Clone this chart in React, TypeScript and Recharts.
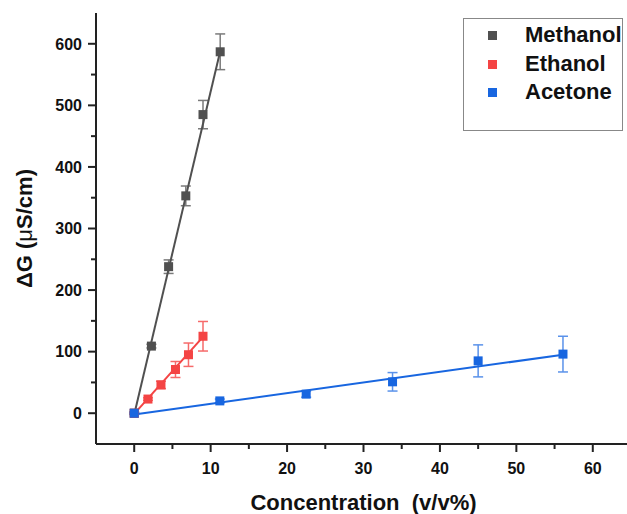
import React from 'react';
import { ComposedChart, Scatter, XAxis, YAxis, ErrorBar, Legend } from 'recharts';

const seriesNames = ['Methanol', 'Ethanol', 'Acetone'];
const seriesColors = ['#505050', '#f44444', '#1866e0'];
const errorColors = ['#7a7a7a', '#f66a6a', '#5a92ea'];

const methanolX = [0, 2.25, 4.5, 6.75, 9.0, 11.25];
const methanolY = [0, 109, 238, 353, 485, 587];
const methanolErr = [2, 3, 11, 16, 23, 29];

const ethanolX = [0, 1.8, 3.5, 5.4, 7.1, 9.0];
const ethanolY = [0, 23, 46, 71, 95, 125];
const ethanolErr = [1, 2, 6, 13, 19, 24];

const acetoneX = [0, 11.2, 22.5, 33.8, 45, 56.1];
const acetoneY = [0, 20, 31, 51, 85, 96];
const acetoneErr = [1, 3, 5, 15, 26, 29];

const methanolFitX = [0, 11.25];
const methanolFitY = [-2, 588];
const ethanolFitX = [0, 9.0];
const ethanolFitY = [-1, 124];
const acetoneFitX = [0, 56.1];
const acetoneFitY = [-2, 95];

const xTicks = [0, 5, 10, 15, 20, 25, 30, 35, 40, 45, 50, 55, 60];
const yTicks = [0, 50, 100, 150, 200, 250, 300, 350, 400, 450, 500, 550, 600];

const toPoints = (xs: number[], ys: number[], es?: number[]) =>
  xs.map((x, i) => ({ x, y: ys[i], err: es ? es[i] : 0 }));

const methanolData = toPoints(methanolX, methanolY, methanolErr);
const ethanolData = toPoints(ethanolX, ethanolY, ethanolErr);
const acetoneData = toPoints(acetoneX, acetoneY, acetoneErr);
const methanolFit = toPoints(methanolFitX, methanolFitY);
const ethanolFit = toPoints(ethanolFitX, ethanolFitY);
const acetoneFit = toPoints(acetoneFitX, acetoneFitY);

const FONT = '"Liberation Sans", Arial, sans-serif';
const AXIS = '#222';

const XTick = (props: any) => {
  const { x, y, payload } = props;
  const v = payload.value;
  const major = v % 10 === 0;
  return (
    <g>
      <line x1={x} x2={x} y1={y} y2={y + (major ? 8 : 5)} stroke={AXIS} strokeWidth={2} />
      {major && (
        <text x={x} y={y + 30} textAnchor="middle" fontFamily={FONT} fontWeight="bold" fontSize={16} fill="#111">
          {v}
        </text>
      )}
    </g>
  );
};

const YTick = (props: any) => {
  const { x, y, payload } = props;
  const v = payload.value;
  const major = v % 100 === 0;
  return (
    <g>
      <line x1={x} x2={x - (major ? 8 : 5)} y1={y} y2={y} stroke={AXIS} strokeWidth={2} />
      {major && (
        <text x={x - 14} y={y} dy="0.36em" textAnchor="end" fontFamily={FONT} fontWeight="bold" fontSize={16} fill="#111">
          {v}
        </text>
      )}
    </g>
  );
};

const square = (color: string) => (props: any) => {
  const { cx, cy } = props;
  if (cx == null || cy == null) return <g />;
  return <rect x={cx - 4.5} y={cy - 4.5} width={9} height={9} fill={color} />;
};

const noShape = () => <g />;

const XLabel = (props: any) => {
  const vb = props.viewBox;
  return (
    <text x={vb.x + vb.width / 2} y={vb.y + 66} textAnchor="middle" fontFamily={FONT} fontWeight="bold" fontSize={22} fill="#111">
      Concentration {'\u00a0'}(v/v%)
    </text>
  );
};

const YLabel = (props: any) => {
  const vb = props.viewBox;
  const cx = 32;
  const cy = vb.y + vb.height / 2;
  return (
    <text x={cx} y={cy} transform={`rotate(-90, ${cx}, ${cy})`} textAnchor="middle" fontFamily={FONT} fontWeight="bold" fontSize={22} fill="#111">
      ΔG (<tspan fontWeight="normal">μ</tspan>S/cm)
    </text>
  );
};

const LegendBox = () => (
  <div
    style={{
      width: 160,
      height: 113,
      border: '1px solid #888',
      background: '#fff',
      position: 'relative',
      boxSizing: 'border-box',
    }}
  >
    {seriesNames.map((name, i) => (
      <div key={name} style={{ position: 'absolute', left: 0, top: 16 + i * 28.5 - 14, height: 28, width: 160 }}>
        <div
          style={{
            position: 'absolute',
            left: 24,
            top: 10,
            width: 9,
            height: 9,
            background: seriesColors[i],
          }}
        />
        <div
          style={{
            position: 'absolute',
            left: 61,
            top: 0,
            lineHeight: '28px',
            fontFamily: FONT,
            fontWeight: 'bold',
            fontSize: 22,
            color: '#111',
            whiteSpace: 'nowrap',
          }}
        >
          {name}
        </div>
      </div>
    ))}
  </div>
);

export default function App() {
  return (
    <div style={{ position: 'absolute', left: 0, top: 0, width: 627, height: 514, overflow: 'hidden', background: '#fff' }}>
      <ComposedChart width={640} height={514} margin={{ top: 13, right: 9, bottom: 0, left: 0 }}>
        <XAxis
          xAxisId="b"
          type="number"
          dataKey="x"
          domain={[-5, 65]}
          ticks={xTicks}
          interval={0}
          height={70}
          tickSize={0}
          tickMargin={0}
          tickLine={false}
          axisLine={{ stroke: AXIS, strokeWidth: 2 }}
          tick={<XTick />}
          label={<XLabel />}
          allowDataOverflow
        />
        <XAxis
          xAxisId="t"
          orientation="top"
          type="number"
          dataKey="x"
          domain={[-5, 65]}
          height={0}
          tick={false}
          tickLine={false}
          axisLine={{ stroke: AXIS, strokeWidth: 2 }}
        />
        <YAxis
          yAxisId="l"
          type="number"
          dataKey="y"
          domain={[-50, 650]}
          ticks={yTicks}
          interval={0}
          width={96}
          tickSize={0}
          tickMargin={0}
          tickLine={false}
          axisLine={{ stroke: AXIS, strokeWidth: 2 }}
          tick={<YTick />}
          label={<YLabel />}
          allowDataOverflow
        />
        <YAxis
          yAxisId="r"
          orientation="right"
          type="number"
          dataKey="y"
          domain={[-50, 650]}
          width={0}
          tick={false}
          tickLine={false}
          axisLine={{ stroke: AXIS, strokeWidth: 2 }}
        />
        <Legend
          layout="vertical"
          align="center"
          verticalAlign="middle"
          wrapperStyle={{ position: 'absolute', left: 463, top: 18, width: 162, height: 115 }}
          content={<LegendBox />}
        />
        <Scatter xAxisId="b" yAxisId="l" data={methanolFit} shape={noShape} line={{ stroke: seriesColors[0], strokeWidth: 2 }} isAnimationActive={false} legendType="none" />
        <Scatter xAxisId="b" yAxisId="l" data={ethanolFit} shape={noShape} line={{ stroke: seriesColors[1], strokeWidth: 2 }} isAnimationActive={false} legendType="none" />
        <Scatter xAxisId="b" yAxisId="l" data={acetoneFit} shape={noShape} line={{ stroke: seriesColors[2], strokeWidth: 2 }} isAnimationActive={false} legendType="none" />
        <Scatter xAxisId="b" yAxisId="l" name={seriesNames[0]} data={methanolData} shape={square(seriesColors[0])} isAnimationActive={false}>
          <ErrorBar dataKey="err" direction="y" width={5} stroke={errorColors[0]} strokeWidth={1.5} isAnimationActive={false} />
        </Scatter>
        <Scatter xAxisId="b" yAxisId="l" name={seriesNames[1]} data={ethanolData} shape={square(seriesColors[1])} isAnimationActive={false}>
          <ErrorBar dataKey="err" direction="y" width={5} stroke={errorColors[1]} strokeWidth={1.5} isAnimationActive={false} />
        </Scatter>
        <Scatter xAxisId="b" yAxisId="l" name={seriesNames[2]} data={acetoneData} shape={square(seriesColors[2])} isAnimationActive={false}>
          <ErrorBar dataKey="err" direction="y" width={5} stroke={errorColors[2]} strokeWidth={1.5} isAnimationActive={false} />
        </Scatter>
      </ComposedChart>
    </div>
  );
}
